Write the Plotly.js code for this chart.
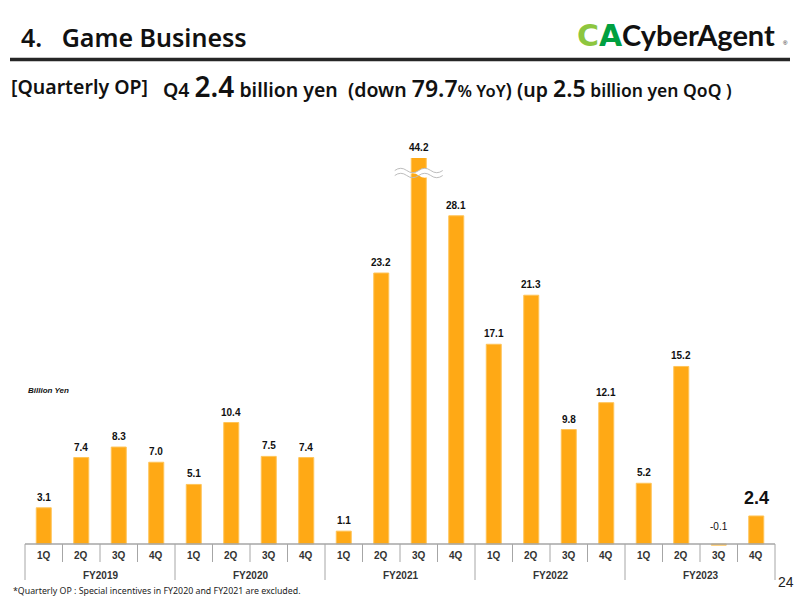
<!DOCTYPE html>
<html>
<head>
<meta charset="utf-8">
<script src="https://cdn.plot.ly/plotly-3.0.1.min.js"></script>
<style>
  html, body { margin: 0; padding: 0; background: #ffffff; }
  #chart { width: 800px; height: 600px; }
</style>
</head>
<body>
<div id="chart"></div>
<script>
// Quarterly operating profit of the Game Business (billion yen)
const quarters = ['1Q', '2Q', '3Q', '4Q'];
const fiscalYears = ['FY2019', 'FY2020', 'FY2021', 'FY2022', 'FY2023'];
const quarterlyOP = [
  3.1, 7.4, 8.3, 7.0,
  5.1, 10.4, 7.5, 7.4,
  1.1, 23.2, 44.2, 28.1,
  17.1, 21.3, 9.8, 12.1,
  5.2, 15.2, -0.1, 2.4
];
const latestIndex = quarterlyOP.length - 1;

// Plot frame in page pixels
const PL = 25, PR = 775, PT = 158, PB = 548;
const PX_PER_UNIT = 11.68;
const Y_TOP = (544 - PT) / PX_PER_UNIT;      // bars above this are cut with a break mark
const Y_BOTTOM = -(PB - 544) / PX_PER_UNIT;
const px2x = p => (p - PL) / (PR - PL);
const py2y = p => (PB - p) / (PB - PT);

const nBars = quarterlyOP.length;
const xIdx = quarterlyOP.map((_, i) => i);
const qLabels = fiscalYears.flatMap(() => quarters);

const BAR = '#FFA915';
const GRID = '#A6A6A6';
const FONT_UI = '"Noto Sans", Lato, sans-serif';
const FONT_ARIAL = '"Liberation Sans", Arial, sans-serif';

const trace = {
  type: 'bar',
  x: xIdx,
  y: quarterlyOP,
  width: 0.4,
  marker: { color: BAR, line: { color: '#FFC458', width: 1 } },
  hoverinfo: 'skip',
  cliponaxis: true
};

const shapes = [];
const annotations = [];

// baseline
shapes.push({ type: 'line', xref: 'paper', yref: 'y', x0: 0, x1: 1, y0: 0, y1: 0,
  line: { color: GRID, width: 1.5 } });

// quarter and fiscal-year dividers under the axis
for (let i = 0; i <= nBars; i++) {
  const isYear = i % quarters.length === 0;
  shapes.push({ type: 'line', xref: 'paper', yref: 'paper',
    x0: i / nBars, x1: i / nBars, y0: py2y(544), y1: py2y(isYear ? 580 : 562),
    line: { color: GRID, width: 1 } });
}

// axis labels
qLabels.forEach((q, i) => {
  annotations.push({ xref: 'x', yref: 'paper', x: i, y: py2y(555), text: q,
    showarrow: false, xanchor: 'center', yanchor: 'middle',
    font: { family: FONT_ARIAL, size: 10, color: '#333333', weight: 'bold' } });
});
fiscalYears.forEach((fy, g) => {
  annotations.push({ xref: 'x', yref: 'paper', x: g * quarters.length + 1.5, y: py2y(575), text: fy,
    showarrow: false, xanchor: 'center', yanchor: 'middle',
    font: { family: FONT_ARIAL, size: 10, color: '#333333', weight: 'bold' } });
});

// value labels
quarterlyOP.forEach((v, i) => {
  const isLatest = i === latestIndex;
  const anchorY = v < 0 ? 0 : Math.min(v, Y_TOP * 0.999);
  annotations.push({ xref: 'x', yref: 'y', x: i, y: anchorY,
    text: v.toFixed(1), showarrow: false, xanchor: 'center', yanchor: 'bottom',
    yshift: isLatest ? 6 : (v < 0 ? 10 : 3),
    font: { family: FONT_ARIAL, size: isLatest ? 18 : 10, color: '#111111',
            weight: v < 0 ? 'normal' : 'bold' } });
});

// break mark on bars that exceed the visible range
quarterlyOP.forEach((v, i) => {
  if (v <= Y_TOP) return;
  const cx = PL + (i + 0.5) * (PR - PL) / nBars;
  const half = 24, amp = 2.2, yA = 170.5, yB = 175.5, segs = 4;
  const wave = (yc, reverse) => {
    let pts = [];
    const step = (2 * half) / segs;
    for (let s = 0; s <= segs; s++) pts.push(cx - half + s * step);
    if (reverse) pts = pts.reverse();
    let d = '';
    pts.forEach((x, k) => {
      if (k === 0) { d += (reverse ? 'L' : 'M') + px2x(x) + ',' + py2y(yc); return; }
      const prev = pts[k - 1];
      const mid = (prev + x) / 2;
      const sign = ((reverse ? segs - k : k) % 2 === 0) ? 1 : -1;
      d += ' Q' + px2x(mid) + ',' + py2y(yc + sign * amp * 2) + ' ' + px2x(x) + ',' + py2y(yc);
    });
    return d;
  };
  shapes.push({ type: 'path', xref: 'paper', yref: 'paper', layer: 'above',
    path: wave(yA, false) + ' ' + wave(yB, true) + ' Z',
    fillcolor: '#FFFFFF', line: { width: 0 } });
  shapes.push({ type: 'path', xref: 'paper', yref: 'paper', layer: 'above',
    path: wave(yA, false), line: { color: '#BDBDBD', width: 1 } });
  shapes.push({ type: 'path', xref: 'paper', yref: 'paper', layer: 'above',
    path: wave(yB, false), line: { color: '#BDBDBD', width: 1 } });
});

// unit note
annotations.push({ xref: 'paper', yref: 'paper', x: px2x(26), y: py2y(390), text: '<i><b>Billion Yen</b></i>',
  showarrow: false, xanchor: 'left', yanchor: 'middle',
  font: { family: FONT_ARIAL, size: 8, color: '#111111' } });

// page header
annotations.push({ xref: 'paper', yref: 'paper', x: px2x(19), y: py2y(37), text: '4.   Game Business',
  showarrow: false, xanchor: 'left', yanchor: 'middle',
  font: { family: FONT_UI, size: 25, color: '#111111', weight: 600 } });
shapes.push({ type: 'line', xref: 'paper', yref: 'paper', x0: px2x(10), x1: px2x(790),
  y0: py2y(59.5), y1: py2y(59.5), line: { color: '#262626', width: 3.5 } });

// company logo
annotations.push({ xref: 'paper', yref: 'paper', x: px2x(575), y: py2y(35),
  text: '<span style="color:#8DC63F">C</span><span style="color:#00A040">A</span>',
  showarrow: false, xanchor: 'left', yanchor: 'middle',
  font: { family: '"DejaVu Sans", sans-serif', size: 30, color: '#00A040', weight: 'bold' } });
annotations.push({ xref: 'paper', yref: 'paper', x: px2x(620), y: py2y(34), text: 'CyberAgent',
  showarrow: false, xanchor: 'left', yanchor: 'middle',
  font: { family: 'Lato, sans-serif', size: 29, color: '#111111', weight: 'bold' } });
annotations.push({ xref: 'paper', yref: 'paper', x: px2x(781), y: py2y(43), text: '®',
  showarrow: false, xanchor: 'left', yanchor: 'middle',
  font: { family: FONT_ARIAL, size: 6, color: '#111111' } });

// headline
annotations.push({ xref: 'paper', yref: 'paper', x: px2x(9), y: py2y(86), text: '[Quarterly OP]',
  showarrow: false, xanchor: 'left', yanchor: 'middle',
  font: { family: FONT_UI, size: 19.5, color: '#111111', weight: 600 } });
annotations.push({ xref: 'paper', yref: 'paper', x: px2x(161), y: py2y(86),
  text: 'Q4 <span style="font-size:28px">' + quarterlyOP[latestIndex].toFixed(1) + '</span> billion yen  (down ' +
        '<span style="font-size:23px">79.7</span><span style="font-size:16.5px">% YoY</span>) (up ' +
        '<span style="font-size:23px">2.5</span><span style="font-size:17.5px"> billion yen QoQ )</span>',
  showarrow: false, xanchor: 'left', yanchor: 'middle',
  font: { family: FONT_UI, size: 19.5, color: '#111111', weight: 600 } });

// footnote and page number
annotations.push({ xref: 'paper', yref: 'paper', x: px2x(11), y: py2y(591),
  text: '*Quarterly OP : Special incentives in FY2020 and FY2021 are excluded.',
  showarrow: false, xanchor: 'left', yanchor: 'middle',
  font: { family: FONT_UI, size: 8.8, color: '#222222' } });
annotations.push({ xref: 'paper', yref: 'paper', x: px2x(776), y: py2y(582), text: '24',
  showarrow: false, xanchor: 'left', yanchor: 'middle',
  font: { family: FONT_ARIAL, size: 14, color: '#222222' } });

const layout = {
  width: 800, height: 600,
  margin: { l: PL, r: 800 - PR, t: PT, b: 600 - PB, pad: 0 },
  paper_bgcolor: '#FFFFFF', plot_bgcolor: '#FFFFFF',
  showlegend: false,
  xaxis: { range: [-0.5, nBars - 0.5], visible: false, fixedrange: true },
  yaxis: { range: [Y_BOTTOM, Y_TOP], visible: false, fixedrange: true },
  shapes: shapes,
  annotations: annotations
};

Plotly.newPlot('chart', [trace], layout, { displayModeBar: false, staticPlot: true });
</script>
</body>
</html>
